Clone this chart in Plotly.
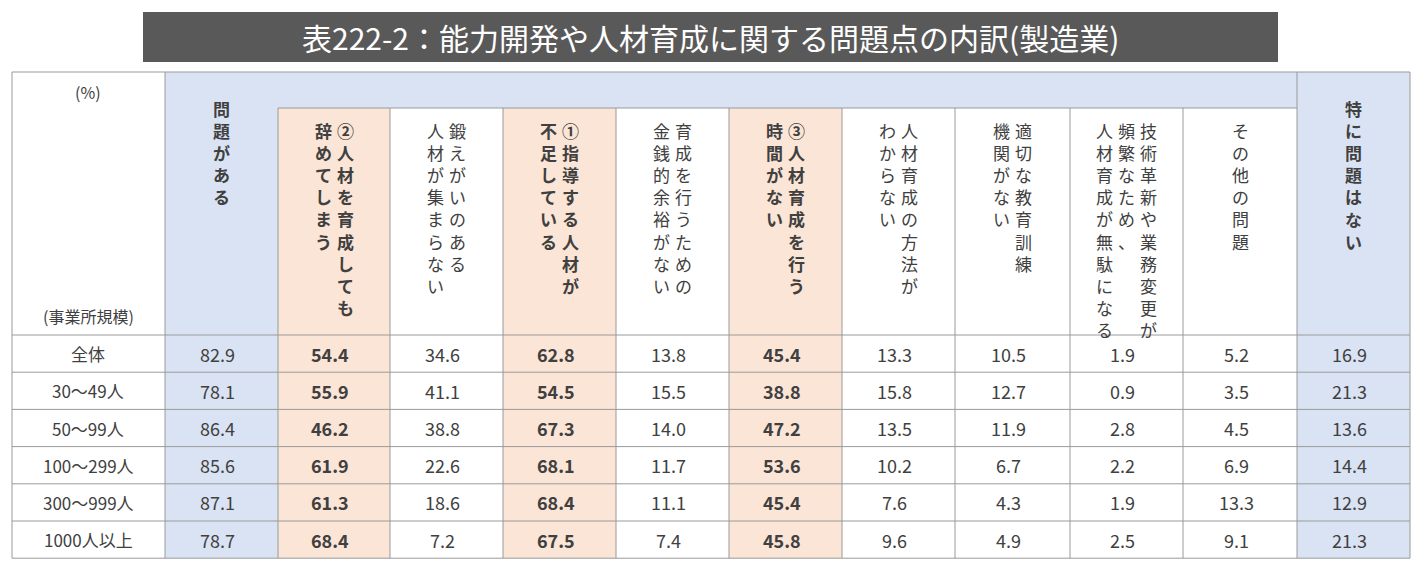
import plotly.graph_objects as go

title = "表222-2：能力開発や人材育成に関する問題点の内訳(製造業)"
rows = ["全体", "30～49人", "50～99人", "100～299人", "300～999人", "1000人以上"]
# header lines per column, in reading order (first line = rightmost)
headers = [
    ["問題がある"],
    ["②人材を育成しても", "辞めてしまう"],
    ["鍛えがいのある", "人材が集まらない"],
    ["①指導する人材が", "不足している"],
    ["育成を行うための", "金銭的余裕がない"],
    ["③人材育成を行う", "時間がない"],
    ["人材育成の方法が", "わからない"],
    ["適切な教育訓練", "機関がない"],
    ["技術革新や業務変更が", "頻繁なため、", "人材育成が無駄になる"],
    ["その他の問題"],
    ["特に問題はない"],
]
values = [
    [82.9, 54.4, 34.6, 62.8, 13.8, 45.4, 13.3, 10.5, 1.9, 5.2, 16.9],
    [78.1, 55.9, 41.1, 54.5, 15.5, 38.8, 15.8, 12.7, 0.9, 3.5, 21.3],
    [86.4, 46.2, 38.8, 67.3, 14.0, 47.2, 13.5, 11.9, 2.8, 4.5, 13.6],
    [85.6, 61.9, 22.6, 68.1, 11.7, 53.6, 10.2, 6.7, 2.2, 6.9, 14.4],
    [87.1, 61.3, 18.6, 68.4, 11.1, 45.4, 7.6, 4.3, 1.9, 13.3, 12.9],
    [78.7, 68.4, 7.2, 67.5, 7.4, 45.8, 9.6, 4.9, 2.5, 9.1, 21.3],
]
kind = ["blue", "pink", "w", "pink", "w", "pink", "w", "w", "w", "w", "blue"]

FONT = "Noto Sans CJK JP"
GRID = "#9a9a9a"
BLUE = "#dae3f3"
PINK = "#fbe5d6"
TXT = "#404040"

xs = [12, 165, 278, 390, 503, 616, 729, 842, 955, 1070, 1183, 1297, 1410]
top, sub, hb = 72, 108, 335
rh = 37.2
ybot = hb + rh * len(rows)

shapes, ann = [], []
def rect(x0, y0, x1, y1, fill, lw=0):
    shapes.append(dict(type="rect", x0=x0, y0=y0, x1=x1, y1=y1, fillcolor=fill,
                       line=dict(width=lw, color=GRID), layer="below"))
def line(x0, y0, x1, y1):
    shapes.append(dict(type="line", x0=x0, y0=y0, x1=x1, y1=y1, line=dict(width=1, color=GRID)))

# title
rect(143, 12, 1278, 62, "#595959")
ann.append(dict(x=710, y=37, text=title, showarrow=False, font=dict(size=30, color="white", family=FONT)))

# backgrounds
rect(xs[1], top, xs[-1], sub, BLUE)
for c, k in enumerate(kind):
    x0, x1 = xs[c + 1], xs[c + 2]
    if k == "blue":
        rect(x0, top, x1, ybot, BLUE)
    elif k == "pink":
        rect(x0, sub, x1, ybot, PINK)

# grid
line(xs[0], top, xs[-1], top)
line(xs[2], sub, xs[-2], sub)
for i in range(len(rows) + 1):
    line(xs[0], hb + rh * i, xs[-1], hb + rh * i)
for i, x in enumerate(xs):
    if i in (0, 1, len(xs) - 2, len(xs) - 1):
        line(x, top, x, ybot)
    else:
        line(x, sub, x, ybot)

# header texts
ann.append(dict(x=88, y=78, text="(%)", showarrow=False, yanchor="top", font=dict(size=16, color=TXT, family=FONT)))
ann.append(dict(x=88, y=316, text="(事業所規模)", showarrow=False, font=dict(size=16, color=TXT, family=FONT)))
for c, lines in enumerate(headers):
    x0, x1 = xs[c + 1], xs[c + 2]
    bold = kind[c] != "w"
    n = len(lines)
    gap = 22
    ystart = 94 if kind[c] == "blue" else 116
    cx = (x0 + x1) / 2
    for j, ln in enumerate(lines):
        x = cx + (n - 1) / 2 * gap - j * gap
        t = "<br>".join(list(ln))
        if bold:
            t = "<b>" + t + "</b>"
        ann.append(dict(x=x, y=ystart, text=t, showarrow=False, yanchor="top", xanchor="center",
                        align="center", font=dict(size=17, color=TXT, family=FONT)))

# body
for r, name in enumerate(rows):
    yc = hb + rh * (r + 0.5)
    ann.append(dict(x=88, y=yc, text=name, showarrow=False, font=dict(size=17, color=TXT, family=FONT)))
    for c, v in enumerate(values[r]):
        cx = (xs[c + 1] + xs[c + 2]) / 2 - 4
        t = f"{v:.1f}"
        if kind[c] == "pink":
            t = "<b>" + t + "</b>"
        ann.append(dict(x=cx, y=yc, text=t, showarrow=False, font=dict(size=18, color=TXT, family=FONT)))

fig = go.Figure()
fig.update_layout(width=1422, height=567, margin=dict(l=0, r=0, t=0, b=0),
                  paper_bgcolor="white", plot_bgcolor="white",
                  xaxis=dict(range=[8, 1430], visible=False, fixedrange=True),
                  yaxis=dict(range=[575, 8], visible=False, fixedrange=True),
                  shapes=shapes, annotations=ann, showlegend=False)
fig.write_html("out.html")
